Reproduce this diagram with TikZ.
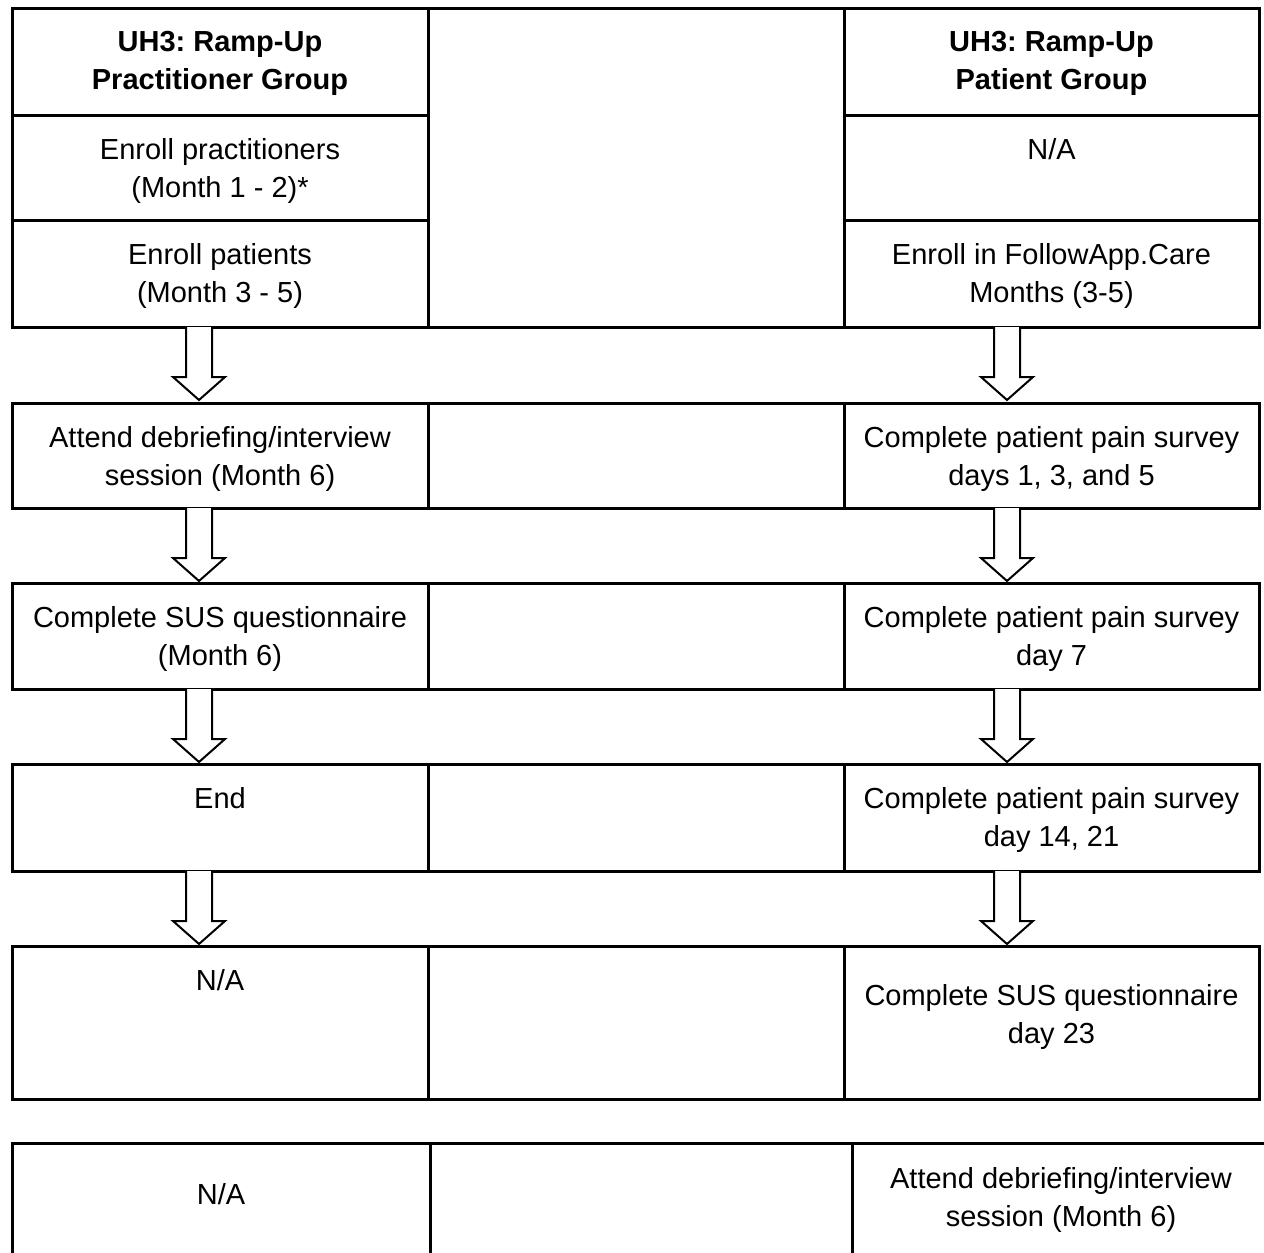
\documentclass[tikz,border=0pt]{standalone}
\usepackage{fontspec}
\setmainfont{Liberation Sans}
\usetikzlibrary{positioning}
\frenchspacing

\begin{document}
\begin{tikzpicture}[x=1pt, y=-1pt, line width=3pt,
    cell/.style={draw, anchor=north west, inner sep=0pt, outer sep=0pt},
    txt/.style={align=center, inner sep=0pt},
    fatarrow/.pic={\draw[line width=2pt, fill=white]
        (-13,0) -- (-13,50) -- (-26,50) -- (0,73) -- (26,50) -- (13,50) -- (13,0);}]
\tikzstyle{every node}=[font=\fontsize{29}{37.5}\selectfont]
\useasboundingbox (0,0) rectangle (1264,1253);

\coordinate (axl) at (199,0);
\coordinate (axr) at (1007,0);

% top block
\node[cell, minimum width=416, minimum height=107] (pracHead) at (12,8) {};
\node[cell, minimum width=416, minimum height=105] (pracEnroll) at (12,115) {};
\node[cell, minimum width=416, minimum height=107] (pracPatients) at (12,220) {};
\node[cell, minimum width=416, minimum height=319] (midTop) at (428,8) {};
\node[cell, minimum width=415, minimum height=107] (patHead) at (844,8) {};
\node[cell, minimum width=415, minimum height=105] (patNA) at (844,115) {};
\node[cell, minimum width=415, minimum height=107] (patEnroll) at (844,220) {};

% flow rows
\foreach \y/\h/\l/\m/\r in {403/105/pracDebrief/midOne/patDayOne,
                            583/106/pracSUS/midTwo/patDaySeven,
                            764/107/pracEnd/midThree/patDayFourteen,
                            946/153/pracNA/midFour/patSUS}{
  \node[cell, minimum width=416, minimum height=\h] (\l) at (12,\y) {};
  \node[cell, minimum width=416, minimum height=\h] (\m) at (428,\y) {};
  \node[cell, minimum width=415, minimum height=\h] (\r) at (844,\y) {};
}

% bottom table (cut at the page edge)
\begin{scope}
\clip (0,0) rectangle (1264,1253);
\node[cell, minimum width=418, minimum height=130] (botL) at (12,1143) {};
\node[cell, minimum width=422, minimum height=130] (botM) at (430,1143) {};
\node[cell, minimum width=418, minimum height=130] (botR) at (852,1143) {};
\end{scope}

% texts
\node[txt, below=22pt of pracHead.north] (pracHeadTxt) {\bfseries UH3: Ramp-Up\\\bfseries Practitioner Group};
\node[txt, below=22pt of patHead.north] (patHeadTxt) {\bfseries UH3: Ramp-Up\\\bfseries Patient Group};
\node[txt, below=22pt of pracEnroll.north] (pracEnrollTxt) {Enroll practitioners\\(Month 1 - 2)*};
\node[txt, below=22pt of patNA.north] (patNATxt) {N/A};
\node[txt, below=22pt of pracPatients.north] (pracPatientsTxt) {Enroll patients\\(Month 3 - 5)};
\node[txt, below=22pt of patEnroll.north] (patEnrollTxt) {Enroll in FollowApp.Care\\Months (3-5)};

\node[txt, below=22pt of pracDebrief.north] (pracDebriefTxt) {Attend debriefing/interview\\session (Month 6)};
\node[txt, below=22pt of patDayOne.north] (patDayOneTxt) {Complete patient pain survey\\days 1, 3, and 5};
\node[txt, below=22pt of pracSUS.north] (pracSUSTxt) {Complete SUS questionnaire\\(Month 6)};
\node[txt, below=22pt of patDaySeven.north] (patDaySevenTxt) {Complete patient pain survey\\day 7};
\node[txt, below=22pt of pracEnd.north] (pracEndTxt) {End};
\node[txt, below=22pt of patDayFourteen.north] (patDayFourteenTxt) {Complete patient pain survey\\day 14, 21};
\node[txt, below=22pt of pracNA.north] (pracNATxt) {N/A};
\node[txt, below=37pt of patSUS.north] (patSUSTxt) {Complete SUS questionnaire\\day 23};

\node[txt, below=39pt of botL.north] (botLTxt) {N/A};
\node[txt, below=23pt of botR.north] (botRTxt) {Attend debriefing/interview\\session (Month 6)};

% arrows
\foreach \a/\b in {pracPatients/patEnroll, pracDebrief/patDayOne,
                   pracSUS/patDaySeven, pracEnd/patDayFourteen}{
  \pic at (\a.south -| axl) {fatarrow};
  \pic at (\b.south -| axr) {fatarrow};
}
\end{tikzpicture}
\end{document}
